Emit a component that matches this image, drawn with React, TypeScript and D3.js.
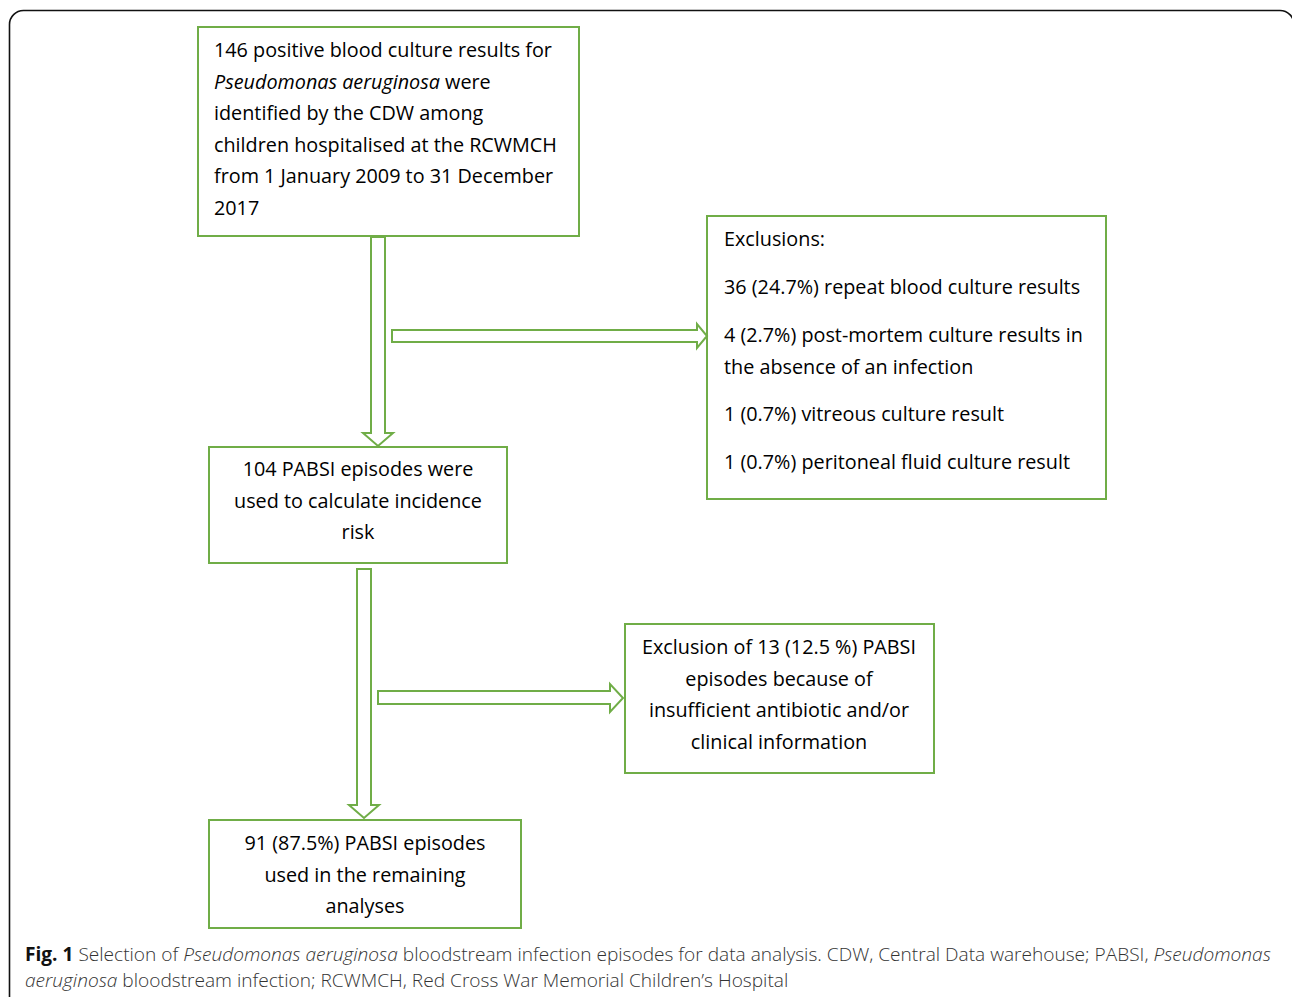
import React from "react";
import * as d3 from "d3";

type Seg = { t: string; i?: boolean; b?: boolean };
type Line = Seg[];

// ---- content ----
const box1Lines: Line[] = [
  [{ t: "146 positive blood culture results for" }],
  [{ t: "Pseudomonas aeruginosa", i: true }, { t: " were" }],
  [{ t: "identified by the CDW among" }],
  [{ t: "children hospitalised at the RCWMCH" }],
  [{ t: "from 1 January 2009 to 31 December" }],
  [{ t: "2017" }],
];
const box2Lines: Line[] = [
  [{ t: "Exclusions:" }],
  [{ t: "36 (24.7%) repeat blood culture results" }],
  [{ t: "4 (2.7%) post-mortem culture results in" }],
  [{ t: "the absence of an infection" }],
  [{ t: "1 (0.7%) vitreous culture result" }],
  [{ t: "1 (0.7%) peritoneal fluid culture result" }],
];
const box3Lines: Line[] = [
  [{ t: "104 PABSI episodes were" }],
  [{ t: "used to calculate incidence" }],
  [{ t: "risk" }],
];
const box4Lines: Line[] = [
  [{ t: "Exclusion of 13 (12.5 %) PABSI" }],
  [{ t: "episodes because of" }],
  [{ t: "insufficient antibiotic and/or" }],
  [{ t: "clinical information" }],
];
const box5Lines: Line[] = [
  [{ t: "91 (87.5%) PABSI episodes" }],
  [{ t: "used in the remaining" }],
  [{ t: "analyses" }],
];
const captionLines: Line[] = [
  [
    { t: "Fig. 1", b: true },
    { t: " Selection of " },
    { t: "Pseudomonas aeruginosa", i: true },
    { t: " bloodstream infection episodes for data analysis. CDW, Central Data warehouse; PABSI, " },
    { t: "Pseudomonas", i: true },
  ],
  [
    { t: "aeruginosa", i: true },
    { t: " bloodstream infection; RCWMCH, Red Cross War Memorial Children\u2019s Hospital" },
  ],
];

// ---- layout ----
const W = 1292;
const H = 997;
const GREEN = "#70AD47";
const FONT = "'Open Sans', sans-serif";
const FS = 19.8;

interface BoxSpec {
  x: number; y: number; w: number; h: number;
  lines: Line[]; lineY: number[]; align: "start" | "middle"; tx: number;
}

const boxes: BoxSpec[] = [
  { x: 198, y: 27, w: 381, h: 209, lines: box1Lines, lineY: [50, 81.6, 113.2, 144.8, 176.4, 208], align: "start", tx: 214 },
  { x: 707, y: 216, w: 399, h: 283, lines: box2Lines, lineY: [239, 287, 335, 366.5, 414, 462], align: "start", tx: 724 },
  { x: 209, y: 447, w: 298, h: 116, lines: box3Lines, lineY: [469, 500.6, 532.2], align: "middle", tx: 358 },
  { x: 625, y: 624, w: 309, h: 149, lines: box4Lines, lineY: [647, 678.6, 710.2, 741.8], align: "middle", tx: 779 },
  { x: 209, y: 820, w: 312, h: 108, lines: box5Lines, lineY: [843, 874.6, 906.2], align: "middle", tx: 365 },
];

function downArrow(x0: number, x1: number, y0: number, yh: number, hx0: number, hx1: number, tipY: number) {
  const p = d3.path();
  const cx = (hx0 + hx1) / 2;
  p.moveTo(x0, y0);
  p.lineTo(x1, y0);
  p.lineTo(x1, yh);
  p.lineTo(hx1, yh);
  p.lineTo(cx, tipY);
  p.lineTo(hx0, yh);
  p.lineTo(x0, yh);
  p.closePath();
  return p.toString();
}
function rightArrow(x0: number, xh: number, y0: number, y1: number, hy0: number, hy1: number, tipX: number) {
  const p = d3.path();
  const cy = (hy0 + hy1) / 2;
  p.moveTo(x0, y0);
  p.lineTo(xh, y0);
  p.lineTo(xh, hy0);
  p.lineTo(tipX, cy);
  p.lineTo(xh, hy1);
  p.lineTo(xh, y1);
  p.lineTo(x0, y1);
  p.closePath();
  return p.toString();
}

const arrows = [
  downArrow(371, 385, 237, 433, 363, 393, 446),
  rightArrow(392, 697, 330, 342, 324, 348, 707),
  downArrow(357, 371, 569, 805, 349, 379, 818),
  rightArrow(378, 610, 691, 704, 684, 712, 623),
];

function renderSegs(line: Line) {
  return line.map((s, k) => (
    <tspan key={k} fontStyle={s.i ? "italic" : "normal"} fontWeight={s.b ? 700 : undefined}>
      {s.t}
    </tspan>
  ));
}

export default function App() {
  const outer = d3.path();
  // rounded frame: left, top, right edges; open at bottom
  const r = 14;
  const rx = W + 2;
  outer.moveTo(9.5, H + 5);
  outer.lineTo(9.5, 10.5 + r);
  outer.arcTo(9.5, 10.5, 9.5 + r, 10.5, r);
  outer.lineTo(rx - r, 10.5);
  outer.arcTo(rx, 10.5, rx, 10.5 + r, r);
  outer.lineTo(rx, H + 5);

  return (
    <svg width={W} height={H} style={{ position: "absolute", left: 0, top: 0, background: "#fff" }}>
      <rect x={0} y={0} width={W} height={H} fill="#fff" />
      <path d={outer.toString()} fill="none" stroke="#111" strokeWidth={1.6} />
      {boxes.map((b, i) => (
        <g key={i}>
          <rect x={b.x} y={b.y} width={b.w} height={b.h} fill="#fff" stroke={GREEN} strokeWidth={2} />
          {b.lines.map((ln, j) => (
            <text
              key={j}
              x={b.tx}
              y={b.lineY[j] + 7}
              textAnchor={b.align}
              fontFamily={FONT}
              fontSize={FS}
              fill="#000"
            >
              {renderSegs(ln)}
            </text>
          ))}
        </g>
      ))}
      {arrows.map((d, i) => (
        <path key={i} d={d} fill="#fff" stroke={GREEN} strokeWidth={2} strokeLinejoin="miter" />
      ))}
      {captionLines.map((ln, j) => (
        <text
          key={j}
          x={25}
          y={[961, 987][j]}
          fontFamily={FONT}
          fontSize={19.1}
          fontWeight={300}
          fill="#333"
        >
          {ln.map((s, k) => (
            <tspan
              key={k}
              fontStyle={s.i ? "italic" : "normal"}
              fontWeight={s.b ? 700 : 300}
              fill={s.b ? "#111" : "#333"}
            >
              {s.t}
            </tspan>
          ))}
        </text>
      ))}
    </svg>
  );
}
